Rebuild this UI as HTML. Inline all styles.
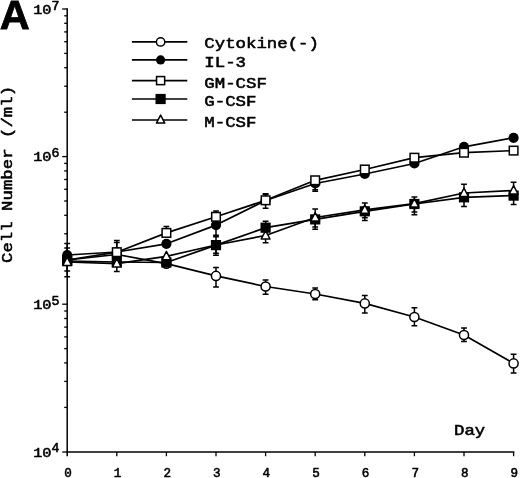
<!DOCTYPE html>
<html><head><meta charset="utf-8"><title>Figure A</title>
<style>html,body{margin:0;padding:0;background:#fff}svg{display:block}.m{font-family:"Liberation Mono","DejaVu Sans Mono",monospace;font-weight:normal;fill:#000;stroke:#000;stroke-width:0.55px;stroke-linejoin:round}.s{font-family:"Liberation Sans",sans-serif;font-weight:bold;fill:#000}</style></head><body>
<svg width="520" height="478" viewBox="0 0 520 478">
<rect width="520" height="478" fill="#fff"/>
<g stroke="#000" stroke-width="1.5" fill="none" stroke-linecap="butt">
<path d="M67.2 8.25V456.2"/>
<path d="M66.45 452H514.35"/>
</g>
<g stroke="#000" stroke-width="1.3" fill="none">
<path d="M62.2 452H67.2"/>
<path d="M64.2 407.4H67.2"/>
<path d="M64.2 381.4H67.2"/>
<path d="M64.2 362.9H67.2"/>
<path d="M64.2 348.6H67.2"/>
<path d="M64.2 336.9H67.2"/>
<path d="M64.2 327.1H67.2"/>
<path d="M64.2 318.5H67.2"/>
<path d="M64.2 311.0H67.2"/>
<path d="M62.2 304.2H67.2"/>
<path d="M64.2 259.8H67.2"/>
<path d="M64.2 233.8H67.2"/>
<path d="M64.2 215.3H67.2"/>
<path d="M64.2 201.0H67.2"/>
<path d="M64.2 189.3H67.2"/>
<path d="M64.2 179.5H67.2"/>
<path d="M64.2 170.9H67.2"/>
<path d="M64.2 163.4H67.2"/>
<path d="M62.2 156.6H67.2"/>
<path d="M64.2 112.2H67.2"/>
<path d="M64.2 86.2H67.2"/>
<path d="M64.2 67.7H67.2"/>
<path d="M64.2 53.4H67.2"/>
<path d="M64.2 41.7H67.2"/>
<path d="M64.2 31.9H67.2"/>
<path d="M64.2 23.3H67.2"/>
<path d="M64.2 15.8H67.2"/>
<path d="M62.2 9.0H67.2"/>
<path d="M116.8 452V456.2"/>
<path d="M166.4 452V456.2"/>
<path d="M216.0 452V456.2"/>
<path d="M265.6 452V456.2"/>
<path d="M315.2 452V456.2"/>
<path d="M364.8 452V456.2"/>
<path d="M414.4 452V456.2"/>
<path d="M464.0 452V456.2"/>
<path d="M513.6 452V456.2"/>
</g>
<text class="m" transform="translate(33.2 13.8) scale(1.12 1)" font-size="13.6" text-anchor="start">10</text>
<text class="m" transform="translate(51.6 9.6) scale(1.05 1)" font-size="12.6" text-anchor="start">7</text>
<text class="m" transform="translate(33.2 161.4) scale(1.12 1)" font-size="13.6" text-anchor="start">10</text>
<text class="m" transform="translate(51.6 157.2) scale(1.05 1)" font-size="12.6" text-anchor="start">6</text>
<text class="m" transform="translate(33.2 309.0) scale(1.12 1)" font-size="13.6" text-anchor="start">10</text>
<text class="m" transform="translate(51.6 304.8) scale(1.05 1)" font-size="12.6" text-anchor="start">5</text>
<text class="m" transform="translate(33.2 456.6) scale(1.12 1)" font-size="13.6" text-anchor="start">10</text>
<text class="m" transform="translate(51.6 452.4) scale(1.05 1)" font-size="12.6" text-anchor="start">4</text>
<text class="m" transform="translate(68.0 477.3) scale(1.0 1)" font-size="12.6" text-anchor="middle">0</text>
<text class="m" transform="translate(117.6 477.3) scale(1.0 1)" font-size="12.6" text-anchor="middle">1</text>
<text class="m" transform="translate(167.2 477.3) scale(1.0 1)" font-size="12.6" text-anchor="middle">2</text>
<text class="m" transform="translate(216.8 477.3) scale(1.0 1)" font-size="12.6" text-anchor="middle">3</text>
<text class="m" transform="translate(266.4 477.3) scale(1.0 1)" font-size="12.6" text-anchor="middle">4</text>
<text class="m" transform="translate(316.0 477.3) scale(1.0 1)" font-size="12.6" text-anchor="middle">5</text>
<text class="m" transform="translate(365.6 477.3) scale(1.0 1)" font-size="12.6" text-anchor="middle">6</text>
<text class="m" transform="translate(415.2 477.3) scale(1.0 1)" font-size="12.6" text-anchor="middle">7</text>
<text class="m" transform="translate(464.8 477.3) scale(1.0 1)" font-size="12.6" text-anchor="middle">8</text>
<text class="m" transform="translate(514.4 477.3) scale(1.0 1)" font-size="12.6" text-anchor="middle">9</text>
<text class="m" transform="translate(12.3 263) rotate(-90) scale(1.19 1)" font-size="14.6">Cell Number (/ml)</text>
<text class="m" transform="translate(454.0 434.6) scale(1.19 1)" font-size="14.6" text-anchor="start">Day</text>
<text class="s" x="-0.3" y="29.2" font-size="41.5" stroke="#000" stroke-width="0.8">A</text>
<polyline points="67.2,260.0 116.8,254.5 166.4,263.7 216.0,275.9 265.6,286.5 315.2,294.0 364.8,303.4 414.4,317.0 464.0,335.0 513.6,363.4" fill="none" stroke="#000" stroke-width="1.7" stroke-linejoin="round"/>
<path d="M67.2 260.0V248.1M64.3 248.1H70.1M67.2 260.0V271.1M64.3 271.1H70.1" fill="none" stroke="#000" stroke-width="1.5"/>
<path d="M216.0 275.9V267.4M213.1 267.4H218.9M216.0 275.9V287.0M213.1 287.0H218.9" fill="none" stroke="#000" stroke-width="1.5"/>
<path d="M265.6 286.5V280.0M262.7 280.0H268.5M265.6 286.5V294.3M262.7 294.3H268.5" fill="none" stroke="#000" stroke-width="1.5"/>
<path d="M315.2 294.0V287.9M312.3 287.9H318.1M315.2 294.0V299.8M312.3 299.8H318.1" fill="none" stroke="#000" stroke-width="1.5"/>
<path d="M364.8 303.4V295.4M361.9 295.4H367.7M364.8 303.4V313.0M361.9 313.0H367.7" fill="none" stroke="#000" stroke-width="1.5"/>
<path d="M414.4 317.0V307.8M411.5 307.8H417.3M414.4 317.0V325.8M411.5 325.8H417.3" fill="none" stroke="#000" stroke-width="1.5"/>
<path d="M464.0 335.0V328.1M461.1 328.1H466.9M464.0 335.0V341.5M461.1 341.5H466.9" fill="none" stroke="#000" stroke-width="1.5"/>
<path d="M513.6 363.4V354.2M510.7 354.2H516.5M513.6 363.4V373.1M510.7 373.1H516.5" fill="none" stroke="#000" stroke-width="1.5"/>
<circle cx="67.2" cy="260.0" r="4.55" fill="#fff" stroke="#000" stroke-width="1.5"/>
<circle cx="116.8" cy="254.5" r="4.55" fill="#fff" stroke="#000" stroke-width="1.5"/>
<circle cx="166.4" cy="263.7" r="4.55" fill="#fff" stroke="#000" stroke-width="1.5"/>
<circle cx="216.0" cy="275.9" r="4.55" fill="#fff" stroke="#000" stroke-width="1.5"/>
<circle cx="265.6" cy="286.5" r="4.55" fill="#fff" stroke="#000" stroke-width="1.5"/>
<circle cx="315.2" cy="294.0" r="4.55" fill="#fff" stroke="#000" stroke-width="1.5"/>
<circle cx="364.8" cy="303.4" r="4.55" fill="#fff" stroke="#000" stroke-width="1.5"/>
<circle cx="414.4" cy="317.0" r="4.55" fill="#fff" stroke="#000" stroke-width="1.5"/>
<circle cx="464.0" cy="335.0" r="4.55" fill="#fff" stroke="#000" stroke-width="1.5"/>
<circle cx="513.6" cy="363.4" r="4.55" fill="#fff" stroke="#000" stroke-width="1.5"/>
<polyline points="67.2,255.0 116.8,252.0 166.4,243.8 216.0,225.1 265.6,200.5 315.2,183.5 364.8,174.0 414.4,163.5 464.0,146.8 513.6,137.8" fill="none" stroke="#000" stroke-width="1.7" stroke-linejoin="round"/>
<path d="M67.2 255.0V243.4M64.3 243.4H70.1" fill="none" stroke="#000" stroke-width="1.5"/>
<path d="M116.8 252.0V242.4M113.9 242.4H119.7" fill="none" stroke="#000" stroke-width="1.5"/>
<path d="M216.0 225.1V235.3M213.1 235.3H218.9" fill="none" stroke="#000" stroke-width="1.5"/>
<path d="M265.6 200.5V193.8M262.7 193.8H268.5M265.6 200.5V208.2M262.7 208.2H268.5" fill="none" stroke="#000" stroke-width="1.5"/>
<path d="M315.2 183.5V191.2M312.3 191.2H318.1" fill="none" stroke="#000" stroke-width="1.5"/>
<circle cx="67.2" cy="255.0" r="5.10" fill="#000"/>
<circle cx="116.8" cy="252.0" r="5.10" fill="#000"/>
<circle cx="166.4" cy="243.8" r="5.10" fill="#000"/>
<circle cx="216.0" cy="225.1" r="5.10" fill="#000"/>
<circle cx="265.6" cy="200.5" r="5.10" fill="#000"/>
<circle cx="315.2" cy="183.5" r="5.10" fill="#000"/>
<circle cx="364.8" cy="174.0" r="5.10" fill="#000"/>
<circle cx="414.4" cy="163.5" r="5.10" fill="#000"/>
<circle cx="464.0" cy="146.8" r="5.10" fill="#000"/>
<circle cx="513.6" cy="137.8" r="5.10" fill="#000"/>
<polyline points="67.2,260.0 116.8,252.2 166.4,232.9 216.0,216.8 265.6,200.3 315.2,180.3 364.8,169.5 414.4,157.7 464.0,152.7 513.6,150.6" fill="none" stroke="#000" stroke-width="1.7" stroke-linejoin="round"/>
<path d="M116.8 252.2V240.4M113.9 240.4H119.7" fill="none" stroke="#000" stroke-width="1.5"/>
<path d="M166.4 232.9V226.4M163.5 226.4H169.3" fill="none" stroke="#000" stroke-width="1.5"/>
<path d="M216.0 216.8V211.0M213.1 211.0H218.9" fill="none" stroke="#000" stroke-width="1.5"/>
<path d="M265.6 200.3V194.3M262.7 194.3H268.5" fill="none" stroke="#000" stroke-width="1.5"/>
<path d="M315.2 180.3V189.8M312.3 189.8H318.1" fill="none" stroke="#000" stroke-width="1.5"/>
<rect x="62.90" y="255.70" width="8.60" height="8.60" fill="#fff" stroke="#000" stroke-width="1.5"/>
<rect x="112.50" y="247.90" width="8.60" height="8.60" fill="#fff" stroke="#000" stroke-width="1.5"/>
<rect x="162.10" y="228.60" width="8.60" height="8.60" fill="#fff" stroke="#000" stroke-width="1.5"/>
<rect x="211.70" y="212.50" width="8.60" height="8.60" fill="#fff" stroke="#000" stroke-width="1.5"/>
<rect x="261.30" y="196.00" width="8.60" height="8.60" fill="#fff" stroke="#000" stroke-width="1.5"/>
<rect x="310.90" y="176.00" width="8.60" height="8.60" fill="#fff" stroke="#000" stroke-width="1.5"/>
<rect x="360.50" y="165.20" width="8.60" height="8.60" fill="#fff" stroke="#000" stroke-width="1.5"/>
<rect x="410.10" y="153.40" width="8.60" height="8.60" fill="#fff" stroke="#000" stroke-width="1.5"/>
<rect x="459.70" y="148.40" width="8.60" height="8.60" fill="#fff" stroke="#000" stroke-width="1.5"/>
<rect x="509.30" y="146.30" width="8.60" height="8.60" fill="#fff" stroke="#000" stroke-width="1.5"/>
<polyline points="67.2,261.0 116.8,262.0 166.4,262.5 216.0,245.1 265.6,227.7 315.2,219.4 364.8,211.3 414.4,204.0 464.0,197.3 513.6,195.6" fill="none" stroke="#000" stroke-width="1.7" stroke-linejoin="round"/>
<path d="M67.2 261.0V276.7M64.3 276.7H70.1" fill="none" stroke="#000" stroke-width="1.5"/>
<path d="M116.8 262.0V271.5M113.9 271.5H119.7" fill="none" stroke="#000" stroke-width="1.5"/>
<path d="M216.0 245.1V236.8M213.1 236.8H218.9M216.0 245.1V253.2M213.1 253.2H218.9" fill="none" stroke="#000" stroke-width="1.5"/>
<path d="M265.6 227.7V221.2M262.7 221.2H268.5" fill="none" stroke="#000" stroke-width="1.5"/>
<path d="M315.2 219.4V229.3M312.3 229.3H318.1" fill="none" stroke="#000" stroke-width="1.5"/>
<path d="M364.8 211.3V220.6M361.9 220.6H367.7" fill="none" stroke="#000" stroke-width="1.5"/>
<path d="M414.4 204.0V214.7M411.5 214.7H417.3" fill="none" stroke="#000" stroke-width="1.5"/>
<path d="M464.0 197.3V206.5M461.1 206.5H466.9" fill="none" stroke="#000" stroke-width="1.5"/>
<path d="M513.6 195.6V204.4M510.7 204.4H516.5" fill="none" stroke="#000" stroke-width="1.5"/>
<rect x="62.10" y="255.90" width="10.20" height="10.20" fill="#000"/>
<rect x="111.70" y="256.90" width="10.20" height="10.20" fill="#000"/>
<rect x="161.30" y="257.40" width="10.20" height="10.20" fill="#000"/>
<rect x="210.90" y="240.00" width="10.20" height="10.20" fill="#000"/>
<rect x="260.50" y="222.60" width="10.20" height="10.20" fill="#000"/>
<rect x="310.10" y="214.30" width="10.20" height="10.20" fill="#000"/>
<rect x="359.70" y="206.20" width="10.20" height="10.20" fill="#000"/>
<rect x="409.30" y="198.90" width="10.20" height="10.20" fill="#000"/>
<rect x="458.90" y="192.20" width="10.20" height="10.20" fill="#000"/>
<rect x="508.50" y="190.50" width="10.20" height="10.20" fill="#000"/>
<polyline points="67.2,262.0 116.8,263.6 166.4,256.3 216.0,245.0 265.6,235.5 315.2,217.5 364.8,209.8 414.4,203.6 464.0,193.0 513.6,190.5" fill="none" stroke="#000" stroke-width="1.7" stroke-linejoin="round"/>
<path d="M216.0 245.0V255.3M213.1 255.3H218.9" fill="none" stroke="#000" stroke-width="1.5"/>
<path d="M265.6 235.5V242.8M262.7 242.8H268.5" fill="none" stroke="#000" stroke-width="1.5"/>
<path d="M315.2 217.5V209.0M312.3 209.0H318.1M315.2 217.5V227.0M312.3 227.0H318.1" fill="none" stroke="#000" stroke-width="1.5"/>
<path d="M364.8 209.8V202.9M361.9 202.9H367.7M364.8 209.8V217.8M361.9 217.8H367.7" fill="none" stroke="#000" stroke-width="1.5"/>
<path d="M414.4 203.6V197.0M411.5 197.0H417.3M414.4 203.6V212.0M411.5 212.0H417.3" fill="none" stroke="#000" stroke-width="1.5"/>
<path d="M464.0 193.0V184.3M461.1 184.3H466.9" fill="none" stroke="#000" stroke-width="1.5"/>
<path d="M513.6 190.5V182.2M510.7 182.2H516.5" fill="none" stroke="#000" stroke-width="1.5"/>
<path d="M67.2 257.10L71.60 265.50H62.80Z" fill="#fff" stroke="#000" stroke-width="1.5" stroke-linejoin="round"/>
<path d="M116.8 258.70L121.20 267.10H112.40Z" fill="#fff" stroke="#000" stroke-width="1.5" stroke-linejoin="round"/>
<path d="M166.4 251.40L170.80 259.80H162.00Z" fill="#fff" stroke="#000" stroke-width="1.5" stroke-linejoin="round"/>
<path d="M265.6 230.60L270.00 239.00H261.20Z" fill="#fff" stroke="#000" stroke-width="1.5" stroke-linejoin="round"/>
<path d="M315.2 212.60L319.60 221.00H310.80Z" fill="#fff" stroke="#000" stroke-width="1.5" stroke-linejoin="round"/>
<path d="M364.8 204.90L369.20 213.30H360.40Z" fill="#fff" stroke="#000" stroke-width="1.5" stroke-linejoin="round"/>
<path d="M414.4 198.70L418.80 207.10H410.00Z" fill="#fff" stroke="#000" stroke-width="1.5" stroke-linejoin="round"/>
<path d="M464.0 188.10L468.40 196.50H459.60Z" fill="#fff" stroke="#000" stroke-width="1.5" stroke-linejoin="round"/>
<path d="M513.6 185.60L518.00 194.00H509.20Z" fill="#fff" stroke="#000" stroke-width="1.5" stroke-linejoin="round"/>
<path d="M131.9 41.9H187.3" stroke="#000" stroke-width="1.6"/>
<circle cx="160.6" cy="41.9" r="4.19" fill="#fff" stroke="#000" stroke-width="1.5"/>
<text class="m" transform="translate(204.3 47.8) scale(1.19 1)" font-size="14.6" text-anchor="start">Cytokine(-)</text>
<path d="M131.9 59.9H187.3" stroke="#000" stroke-width="1.6"/>
<circle cx="160.6" cy="59.9" r="4.59" fill="#000"/>
<text class="m" transform="translate(204.3 66.6) scale(1.19 1)" font-size="14.6" text-anchor="start">IL-3</text>
<path d="M131.9 80.6H187.3" stroke="#000" stroke-width="1.6"/>
<rect x="156.56" y="76.56" width="8.08" height="8.08" fill="#fff" stroke="#000" stroke-width="1.5"/>
<text class="m" transform="translate(204.3 87.5) scale(1.19 1)" font-size="14.6" text-anchor="start">GM-CSF</text>
<path d="M131.9 99H187.3" stroke="#000" stroke-width="1.6"/>
<rect x="155.50" y="93.90" width="10.20" height="10.20" fill="#000"/>
<text class="m" transform="translate(204.3 106.4) scale(1.19 1)" font-size="14.6" text-anchor="start">G-CSF</text>
<path d="M131.9 120H187.3" stroke="#000" stroke-width="1.6"/>
<path d="M160.6 115.14L164.78 123.12H156.42Z" fill="#fff" stroke="#000" stroke-width="1.5" stroke-linejoin="round"/>
<text class="m" transform="translate(204.3 127.3) scale(1.19 1)" font-size="14.6" text-anchor="start">M-CSF</text>
</svg></body></html>
